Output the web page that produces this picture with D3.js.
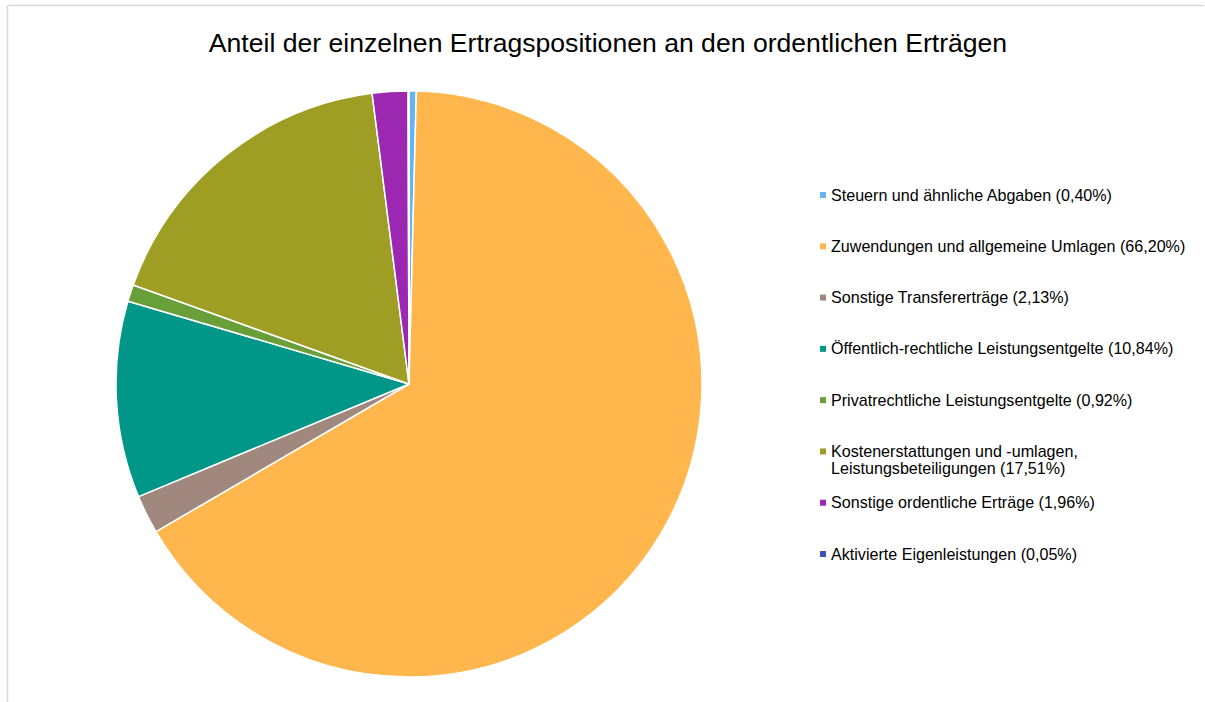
<!DOCTYPE html>
<html>
<head>
<meta charset="utf-8">
<script src="https://cdn.jsdelivr.net/npm/d3@7"></script>
<style>
  body { margin: 0; background: #fff; }
  text { font-family: "Liberation Sans", Arial, sans-serif; fill: #000; }
</style>
</head>
<body>
<div id="chart"></div>
<script>
var width = 1205, height = 702;

// data
var categories = [
  "Steuern und ähnliche Abgaben",
  "Zuwendungen und allgemeine Umlagen",
  "Sonstige Transfererträge",
  "Öffentlich-rechtliche Leistungsentgelte",
  "Privatrechtliche Leistungsentgelte",
  "Kostenerstattungen und -umlagen, Leistungsbeteiligungen",
  "Sonstige ordentliche Erträge",
  "Aktivierte Eigenleistungen"
];
var values = [0.40, 66.20, 2.13, 10.84, 0.92, 17.51, 1.96, 0.05];
var legendLines = [
  ["Steuern und ähnliche Abgaben (0,40%)"],
  ["Zuwendungen und allgemeine Umlagen (66,20%)"],
  ["Sonstige Transfererträge (2,13%)"],
  ["Öffentlich-rechtliche Leistungsentgelte (10,84%)"],
  ["Privatrechtliche Leistungsentgelte (0,92%)"],
  ["Kostenerstattungen und -umlagen,", "Leistungsbeteiligungen (17,51%)"],
  ["Sonstige ordentliche Erträge (1,96%)"],
  ["Aktivierte Eigenleistungen (0,05%)"]
];
var colors = ["#64B5F6", "#FFB74D", "#A1887F", "#009688", "#689F38", "#9E9D24", "#9C27B0", "#3F51B5"];

var data = categories.map((c, i) => ({ key: c, value: values[i], lines: legendLines[i] }));

var svg = d3.select("#chart").append("svg")
    .attr("width", width)
    .attr("height", height);

// frame (only top and left visible in crop)
svg.append("line").attr("x1", 7.5).attr("x2", 7.5).attr("y1", 5.5).attr("y2", height)
    .attr("stroke", "#d9d9d9").attr("stroke-width", 1.5);
svg.append("line").attr("x1", 7.5).attr("x2", 1204).attr("y1", 5.5).attr("y2", 5.5)
    .attr("stroke", "#d9d9d9").attr("stroke-width", 1.5);

svg.append("text")
    .attr("x", 608)
    .attr("y", 52)
    .attr("text-anchor", "middle")
    .style("font-size", "26.6px")
    .text("Anteil der einzelnen Ertragspositionen an den ordentlichen Erträgen");

var color = d3.scaleOrdinal().domain(categories).range(colors);

var pie = d3.pie().sort(null).value(d => d.value);
var arc = d3.arc().innerRadius(0).outerRadius(293);

var pieG = svg.append("g")
    .attr("transform", "translate(409,384)");

pieG.selectAll("path")
    .data(pie(data))
    .enter()
    .append("path")
    .attr("d", arc)
    .attr("fill", d => color(d.data.key))
    .attr("stroke", "#fff")
    .attr("stroke-width", 1.5)
    .attr("stroke-linejoin", "round");

// legend
var legendY = d3.scalePoint().domain(categories).range([195, 554]);

var legend = svg.append("g").classed("legend", true);

var items = legend.selectAll("g")
    .data(data)
    .enter()
    .append("g")
    .attr("transform", d => "translate(820," + legendY(d.key) + ")");

items.append("rect")
    .attr("x", 0)
    .attr("y", -3)
    .attr("width", 6)
    .attr("height", 6)
    .attr("fill", d => color(d.key));

items.each(function(d) {
  var t = d3.select(this).append("text")
      .attr("x", 11)
      .attr("y", 5.5)
      .style("font-size", "16.1px");
  d.lines.forEach((l, i) => {
    t.append("tspan").attr("x", 11).attr("dy", i === 0 ? 0 : 17.5).text(l);
  });
});
</script>
</body>
</html>
